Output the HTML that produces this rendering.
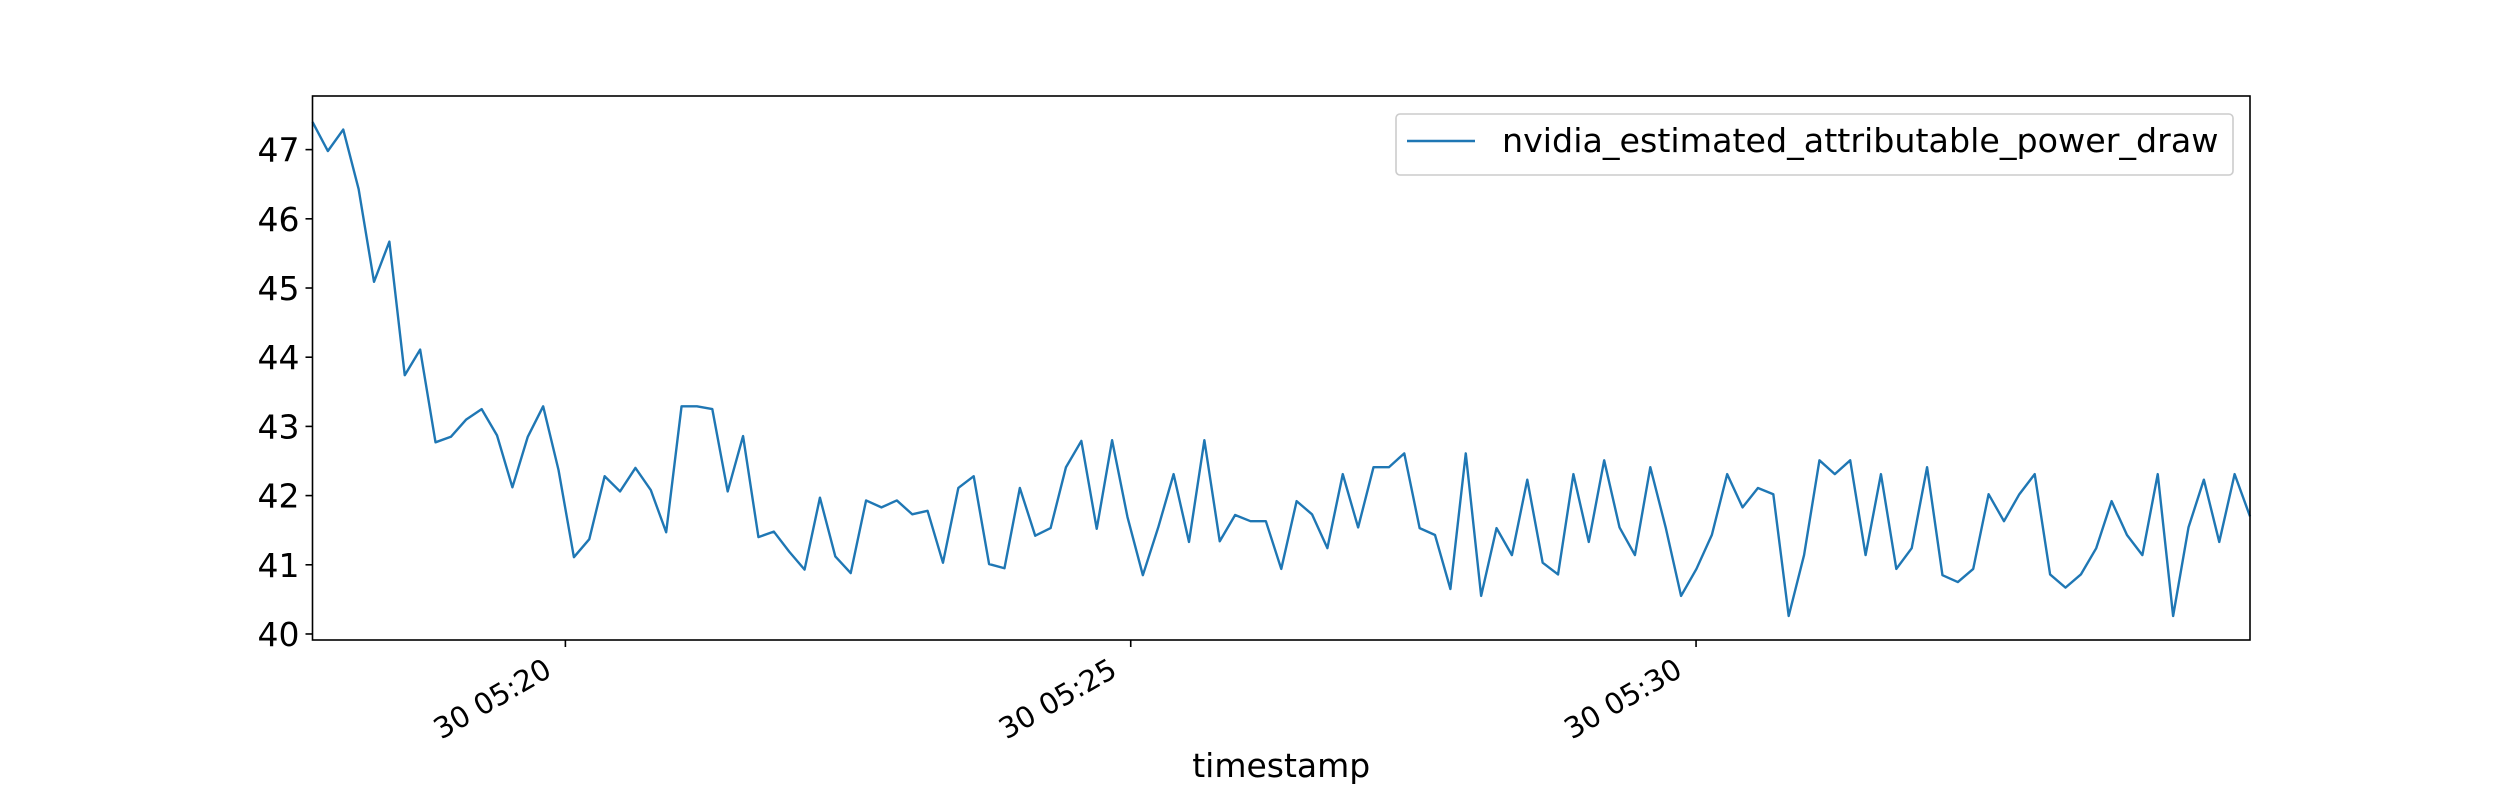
<!DOCTYPE html>
<html><head><meta charset="utf-8"><style>
html,body{margin:0;padding:0;background:#fff;}
svg{display:block;font-family:"DejaVu Sans","Liberation Sans",sans-serif;}
</style></head><body>
<svg id="chart" width="2500" height="800" viewBox="0 0 2500 800" xmlns="http://www.w3.org/2000/svg">
<rect x="0" y="0" width="2500" height="800" fill="#fff"/>
<g id="plot"></g>
</svg>
<script>
const values = [47.40,46.98,47.29,46.43,45.09,45.67,43.74,44.11,42.77,42.85,43.10,43.25,42.87,42.12,42.85,43.29,42.37,41.11,41.37,42.28,42.06,42.40,42.08,41.47,43.29,43.29,43.25,42.06,42.86,41.40,41.48,41.19,40.93,41.97,41.12,40.88,41.93,41.83,41.93,41.73,41.78,41.03,42.11,42.28,41.01,
40.95,42.11,41.42,41.53,42.41,42.79,41.52,42.80,41.69,40.85,41.54,42.31,41.33,42.80,41.34,41.72,41.63,41.63,40.94,41.92,41.73,41.24,42.31,41.54,42.41,42.41,42.61,41.53,41.43,40.65,42.61,40.55,41.53,41.14,42.23,41.03,40.86,42.31,41.33,42.51,41.54,
41.14,42.41,41.54,40.55,40.94,41.43,42.31,41.83,42.11,42.02,40.26,41.14,42.51,42.31,42.51,41.14,42.31,40.94,41.24,42.41,40.85,40.75,40.94,42.02,41.63,42.02,42.31,40.86,40.67,40.86,41.24,41.92,41.43,41.14,42.31,40.26,41.54,42.23,41.33,42.31,41.70];
const startSec = 5*3600 + 17*60 + 45.8;
const stepSec = 8.16;
const xTickSecs = [5*3600+20*60, 5*3600+25*60, 5*3600+30*60];
const xTickLabels = ["30 05:20","30 05:25","30 05:30"];
const yTicks = [40,41,42,43,44,45,46,47];
const seriesName = "nvidia_estimated_attributable_power_draw";

const L=312.5,R=2250,T=96,B=640;
const xMin=startSec, xMax=startSec+stepSec*(values.length-1);
const yMin=39.913, yMax=47.775;
const sx=t=>L+(t-xMin)/(xMax-xMin)*(R-L);
const sy=v=>B-(v-yMin)/(yMax-yMin)*(B-T);
const NS="http://www.w3.org/2000/svg";
const g=document.getElementById('plot');
function mk(tag,attrs,parent){const e=document.createElementNS(NS,tag);for(const k in attrs)e.setAttribute(k,attrs[k]);(parent||g).appendChild(e);return e;}

let d='';
values.forEach((v,i)=>{d+=(i?'L':'M')+sx(startSec+i*stepSec).toFixed(2)+' '+sy(v).toFixed(2);});
const line=mk('path',{d:d,fill:'none',stroke:'#1f77b4','stroke-width':2.4,'stroke-linejoin':'round'});



const frame=mk('rect',{x:L,y:T,width:R-L,height:B-T,fill:'none',stroke:'#000','stroke-width':1.6});



yTicks.forEach(v=>{
  const y=sy(v);
  const t=mk('line',{x1:L-7,x2:L,y1:y,y2:y,stroke:'#000','stroke-width':1.6});
  
  
  const tx=mk('text',{x:L-13,y:y+12,'text-anchor':'end','font-size':33,fill:'#000'});
  tx.textContent=String(v);
  
  
});
xTickSecs.forEach((s,i)=>{
  const x=sx(s);
  const t=mk('line',{x1:x,x2:x,y1:B,y2:B+7,stroke:'#000','stroke-width':1.6});
  
  
  const ax=x-12, ay=675;
  const tx=mk('text',{x:ax,y:ay,'text-anchor':'end','font-size':29,fill:'#000',transform:`rotate(-30 ${ax} ${ay})`});
  tx.textContent=xTickLabels[i];
  
  
});
const xt=mk('text',{x:(L+R)/2,y:777,'text-anchor':'middle','font-size':33,fill:'#000'});
xt.textContent='timestamp';



const lg=mk('g',{});


const lb=mk('rect',{x:1396,y:114,width:837,height:61,rx:4,fill:'#fff','fill-opacity':0.8,stroke:'#ccc','stroke-width':1.6},lg);


const ll=mk('line',{x1:1407,x2:1475,y1:141,y2:141,stroke:'#1f77b4','stroke-width':2.4},lg);


const lt=mk('text',{x:1502,y:152,'font-size':33.3,fill:'#000'},lg);
lt.textContent=seriesName;


</script>
</body></html>
